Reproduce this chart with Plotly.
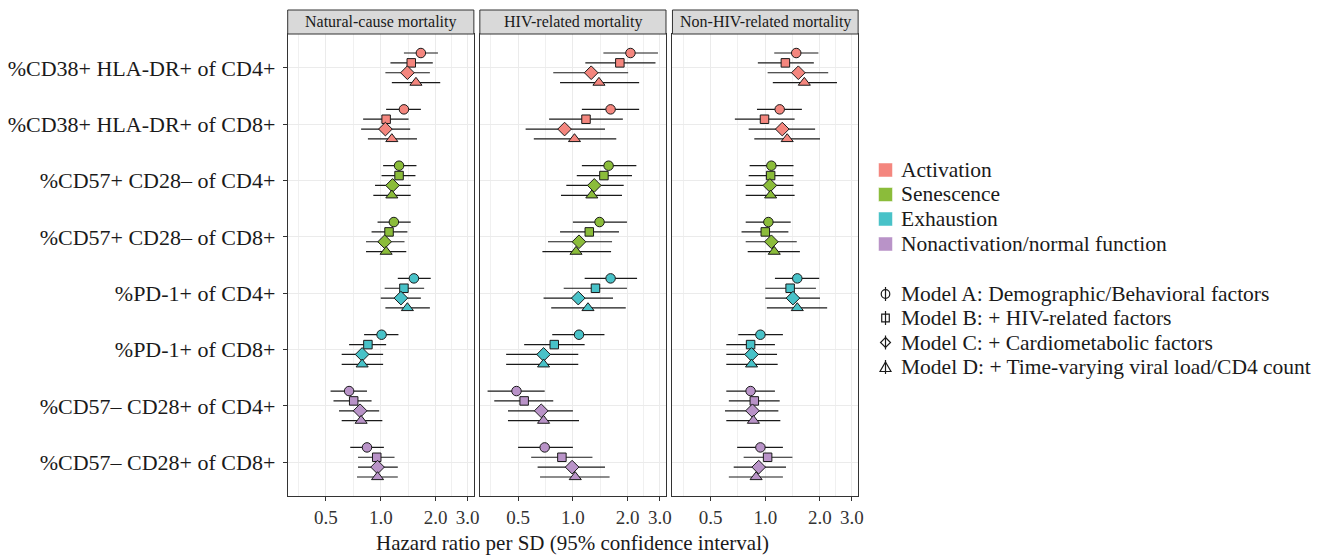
import math
import plotly.graph_objects as go

# ---------------- data ----------------
ROWS = [
    "%CD38+ HLA-DR+ of CD4+",
    "%CD38+ HLA-DR+ of CD8+",
    "%CD57+ CD28\u2013 of CD4+",
    "%CD57+ CD28\u2013 of CD8+",
    "%PD-1+ of CD4+",
    "%PD-1+ of CD8+",
    "%CD57\u2013 CD28+ of CD4+",
    "%CD57\u2013 CD28+ of CD8+",
]
ROW_CATEGORY = [0, 0, 1, 1, 2, 2, 3, 3]
CATEGORIES = ["Activation", "Senescence", "Exhaustion", "Nonactivation/normal function"]
CATEGORY_COLORS = ["#F4867E", "#8BBC3A", "#48C2C8", "#B993C8"]
MODELS = [
    "Model A: Demographic/Behavioral factors",
    "Model B: + HIV-related factors",
    "Model C: + Cardiometabolic factors",
    "Model D: + Time-varying viral load/CD4 count",
]
MODEL_SYMBOLS = ["circle", "square", "diamond", "triangle-up"]
PANELS = ["Natural-cause mortality", "HIV-related mortality", "Non-HIV-related mortality"]
X_TICKVALS = [0.5, 1.0, 2.0, 3.0]
X_TICKTEXT = ["0.5", "1.0", "2.0", "3.0"]
X_MINOR = [0.354, 0.707, 1.414, 2.449]
X_TITLE = "Hazard ratio per SD (95% confidence interval)"

# rows x models  (A, B, C, D)
NAT_HR = [[1.66, 1.47, 1.40, 1.56], [1.34, 1.07, 1.06, 1.15], [1.26, 1.26, 1.16, 1.15], [1.18, 1.11, 1.05, 1.07],
          [1.52, 1.34, 1.29, 1.40], [1.01, 0.85, 0.79, 0.79], [0.67, 0.71, 0.77, 0.78], [0.84, 0.95, 0.96, 0.96]]
NAT_LO = [[1.34, 1.13, 1.06, 1.15], [1.07, 0.80, 0.78, 0.85], [1.03, 1.01, 0.93, 0.91], [0.96, 0.89, 0.83, 0.83],
          [1.24, 1.05, 1.00, 1.06], [0.81, 0.67, 0.61, 0.61], [0.53, 0.55, 0.59, 0.61], [0.68, 0.75, 0.75, 0.74]]
NAT_HI = [[2.06, 1.93, 1.86, 2.12], [1.66, 1.42, 1.45, 1.58], [1.57, 1.55, 1.46, 1.46], [1.46, 1.40, 1.35, 1.38],
          [1.88, 1.73, 1.66, 1.86], [1.25, 1.07, 1.03, 1.03], [0.84, 0.89, 0.98, 1.02], [1.04, 1.19, 1.24, 1.24]]

HIV_HR = [[2.07, 1.81, 1.26, 1.39], [1.61, 1.18, 0.90, 1.02], [1.57, 1.48, 1.31, 1.27], [1.40, 1.23, 1.08, 1.04],
          [1.61, 1.33, 1.07, 1.21], [1.08, 0.79, 0.69, 0.69], [0.49, 0.54, 0.67, 0.69], [0.70, 0.87, 0.99, 1.03]]
HIV_LO = [[1.47, 1.17, 0.78, 0.85], [1.12, 0.74, 0.55, 0.61], [1.12, 1.05, 0.92, 0.86], [1.00, 0.85, 0.73, 0.68],
          [1.16, 0.89, 0.69, 0.76], [0.77, 0.54, 0.43, 0.43], [0.34, 0.37, 0.44, 0.44], [0.50, 0.59, 0.64, 0.66]]
HIV_HI = [[2.93, 2.84, 2.01, 2.31], [2.31, 1.88, 1.50, 1.73], [2.23, 2.11, 1.90, 1.86], [1.98, 1.79, 1.64, 1.62],
          [2.25, 1.98, 1.66, 1.95], [1.49, 1.16, 1.07, 1.07], [0.70, 0.78, 1.00, 1.08], [1.00, 1.28, 1.50, 1.59]]

NON_HR = [[1.48, 1.29, 1.52, 1.64], [1.20, 0.99, 1.24, 1.32], [1.08, 1.07, 1.06, 1.07], [1.04, 1.00, 1.08, 1.12],
          [1.50, 1.37, 1.42, 1.50], [0.94, 0.83, 0.84, 0.84], [0.83, 0.87, 0.85, 0.86], [0.94, 1.03, 0.92, 0.89]]
NON_LO = [[1.12, 0.91, 1.03, 1.10], [0.90, 0.68, 0.81, 0.87], [0.82, 0.81, 0.78, 0.78], [0.78, 0.74, 0.78, 0.80],
          [1.13, 1.00, 1.00, 1.02], [0.71, 0.61, 0.61, 0.61], [0.61, 0.63, 0.60, 0.61], [0.70, 0.76, 0.67, 0.63]]
NON_HI = [[1.96, 1.85, 2.22, 2.48], [1.59, 1.45, 1.88, 2.00], [1.43, 1.43, 1.43, 1.45], [1.38, 1.34, 1.49, 1.55],
          [1.98, 1.90, 2.00, 2.19], [1.25, 1.13, 1.16, 1.17], [1.13, 1.20, 1.18, 1.21], [1.25, 1.41, 1.30, 1.25]]

PANEL_DATA = [(NAT_HR, NAT_LO, NAT_HI), (HIV_HR, HIV_LO, HIV_HI), (NON_HR, NON_LO, NON_HI)]

# ---------------- layout constants ----------------
W, H = 1335, 555
FONT = "Liberation Serif"
DODGE = 0.7
MARKER_SIZES = [9.5, 8.5, 10.5, 10.5]


def PX(x):
    return x / W


def PY(y):
    return 1 - y / H


PANEL_X = [(289, 476), (482, 669), (675.5, 862)]
PANEL_TOP, PANEL_BOTTOM = 34, 496
STRIP_TOP = 10
XRANGE = [-0.511, 0.511]
n_rows = len(ROWS)
n_mod = len(MODELS)

fig = go.Figure()

for p, (hr, lo, hi) in enumerate(PANEL_DATA):
    sfx = "" if p == 0 else str(p + 1)
    for m in range(n_mod):
        off = (n_mod - 1) / 2 - m
        off = off * DODGE / n_mod
        xs = [hr[r][m] for r in range(n_rows)]
        ys = [n_rows - r + off for r in range(n_rows)]
        plus = [hi[r][m] - hr[r][m] for r in range(n_rows)]
        minus = [hr[r][m] - lo[r][m] for r in range(n_rows)]
        cols = [CATEGORY_COLORS[ROW_CATEGORY[r]] for r in range(n_rows)]
        fig.add_trace(go.Scatter(
            x=xs, y=ys, mode="markers", xaxis="x" + sfx, yaxis="y" + sfx,
            marker=dict(symbol=MODEL_SYMBOLS[m], size=MARKER_SIZES[m], color=cols,
                        line=dict(color="#1a1a1a", width=1)),
            error_x=dict(type="data", symmetric=False, array=plus, arrayminus=minus,
                         color="#1a1a1a", thickness=1.2, width=0),
            showlegend=False, hoverinfo="skip",
        ))

layout = dict(
    width=W, height=H, margin=dict(l=0, r=0, t=0, b=0),
    paper_bgcolor="white", plot_bgcolor="white",
    font=dict(family=FONT, color="#1a1a1a"),
    showlegend=False,
)
shapes = []
annotations = []
for p in range(3):
    sfx = "" if p == 0 else str(p + 1)
    xa = "xaxis" + sfx
    ya = "yaxis" + sfx
    x0, x1 = PANEL_X[p]
    layout[xa] = dict(
        type="log", range=XRANGE, domain=[PX(x0), PX(x1)], anchor="y" + sfx,
        tickvals=X_TICKVALS, ticktext=X_TICKTEXT, ticks="outside", ticklen=4,
        tickcolor="#333333", tickwidth=1,
        tickfont=dict(family=FONT, size=19, color="#333333"),
        showgrid=True, gridcolor="#EBEBEB", gridwidth=1.1,
        minor=dict(tickvals=X_MINOR, showgrid=True, gridcolor="#F0F0F0", gridwidth=0.6, ticks=""),
        showline=True, mirror=True, linecolor="#333333", linewidth=1, zeroline=False,
    )
    layout[ya] = dict(
        range=[0.4, n_rows + 0.6], domain=[PY(PANEL_BOTTOM), PY(PANEL_TOP)], anchor="x" + sfx,
        tickvals=[n_rows - r for r in range(n_rows)],
        ticktext=ROWS if p == 0 else [""] * n_rows,
        ticks="outside" if p == 0 else "", ticklen=4, tickcolor="#333333",
        showticklabels=(p == 0),
        tickfont=dict(family=FONT, size=22, color="#1a1a1a"),
        ticklabelstandoff=3,
        showgrid=True, gridcolor="#EBEBEB", gridwidth=1.1,
        showline=True, mirror=True, linecolor="#333333", linewidth=1, zeroline=False,
    )
    # reference line at HR = 1
    shapes.append(dict(type="line", xref="x" + sfx, yref="y" + sfx + " domain",
                       x0=0, x1=0, y0=0, y1=1,
                       line=dict(color="#1a1a1a", width=1.1, dash="4px,4px"), layer="below"))
    # strip
    shapes.append(dict(type="rect", xref="paper", yref="paper",
                       x0=PX(x0), x1=PX(x1), y0=PY(PANEL_TOP), y1=PY(STRIP_TOP),
                       fillcolor="#D9D9D9", line=dict(color="#333333", width=1)))
    annotations.append(dict(xref="paper", yref="paper", x=PX((x0 + x1) / 2),
                            y=PY((PANEL_TOP + STRIP_TOP) / 2), text=PANELS[p], showarrow=False,
                            xanchor="center", yanchor="middle",
                            font=dict(family=FONT, size=16, color="#1a1a1a")))

# x-axis title
annotations.append(dict(xref="paper", yref="paper", x=PX(575), y=PY(543), text=X_TITLE,
                        showarrow=False, xanchor="center", yanchor="middle",
                        font=dict(family=FONT, size=21, color="#1a1a1a")))

# ---- manual legend ----
LEG_KEY_X = 889.5
LEG_TEXT_X = 903
CAT_Y = [170, 194.5, 219, 244]
MOD_Y = [294, 318, 342.5, 367]
LEG_FONT = 21.5
for i, name in enumerate(CATEGORIES):
    y = CAT_Y[i]
    shapes.append(dict(type="rect", xref="paper", yref="paper",
                       x0=PX(LEG_KEY_X - 7), x1=PX(LEG_KEY_X + 7), y0=PY(y + 7), y1=PY(y - 7),
                       fillcolor=CATEGORY_COLORS[i], line=dict(color="white", width=0.5)))
    annotations.append(dict(xref="paper", yref="paper", x=PX(LEG_TEXT_X), y=PY(y), text=name,
                            showarrow=False, xanchor="left", yanchor="middle",
                            font=dict(family=FONT, size=LEG_FONT, color="#1a1a1a")))

glyph_line = dict(color="#1a1a1a", width=1.2)
for i, name in enumerate(MODELS):
    y = MOD_Y[i]
    cx = LEG_KEY_X
    shapes.append(dict(type="line", xref="paper", yref="paper", x0=PX(cx), x1=PX(cx),
                       y0=PY(y + 7), y1=PY(y - 7), line=glyph_line))
    if MODEL_SYMBOLS[i] == "circle":
        shapes.append(dict(type="circle", xref="paper", yref="paper", x0=PX(cx - 4.3), x1=PX(cx + 4.3),
                           y0=PY(y + 4.3), y1=PY(y - 4.3), line=glyph_line))
    elif MODEL_SYMBOLS[i] == "square":
        shapes.append(dict(type="rect", xref="paper", yref="paper", x0=PX(cx - 3.8), x1=PX(cx + 3.8),
                           y0=PY(y + 3.8), y1=PY(y - 3.8), line=glyph_line))
    elif MODEL_SYMBOLS[i] == "diamond":
        path = "M {},{} L {},{} L {},{} L {},{} Z".format(
            PX(cx), PY(y - 5), PX(cx + 5), PY(y), PX(cx), PY(y + 5), PX(cx - 5), PY(y))
        shapes.append(dict(type="path", xref="paper", yref="paper", path=path, line=glyph_line))
    else:
        path = "M {},{} L {},{} L {},{} Z".format(
            PX(cx), PY(y - 5), PX(cx + 5.5), PY(y + 4.5), PX(cx - 5.5), PY(y + 4.5))
        shapes.append(dict(type="path", xref="paper", yref="paper", path=path, line=glyph_line))
    annotations.append(dict(xref="paper", yref="paper", x=PX(LEG_TEXT_X), y=PY(y), text=name,
                            showarrow=False, xanchor="left", yanchor="middle",
                            font=dict(family=FONT, size=LEG_FONT, color="#1a1a1a")))

layout["shapes"] = shapes
layout["annotations"] = annotations
fig.update_layout(**layout)
fig.write_html(
    "out.html",
    config={"displayModeBar": False},
    post_script="document.body.style.margin='0px';document.body.style.padding='0px';document.body.style.overflow='hidden';",
)
